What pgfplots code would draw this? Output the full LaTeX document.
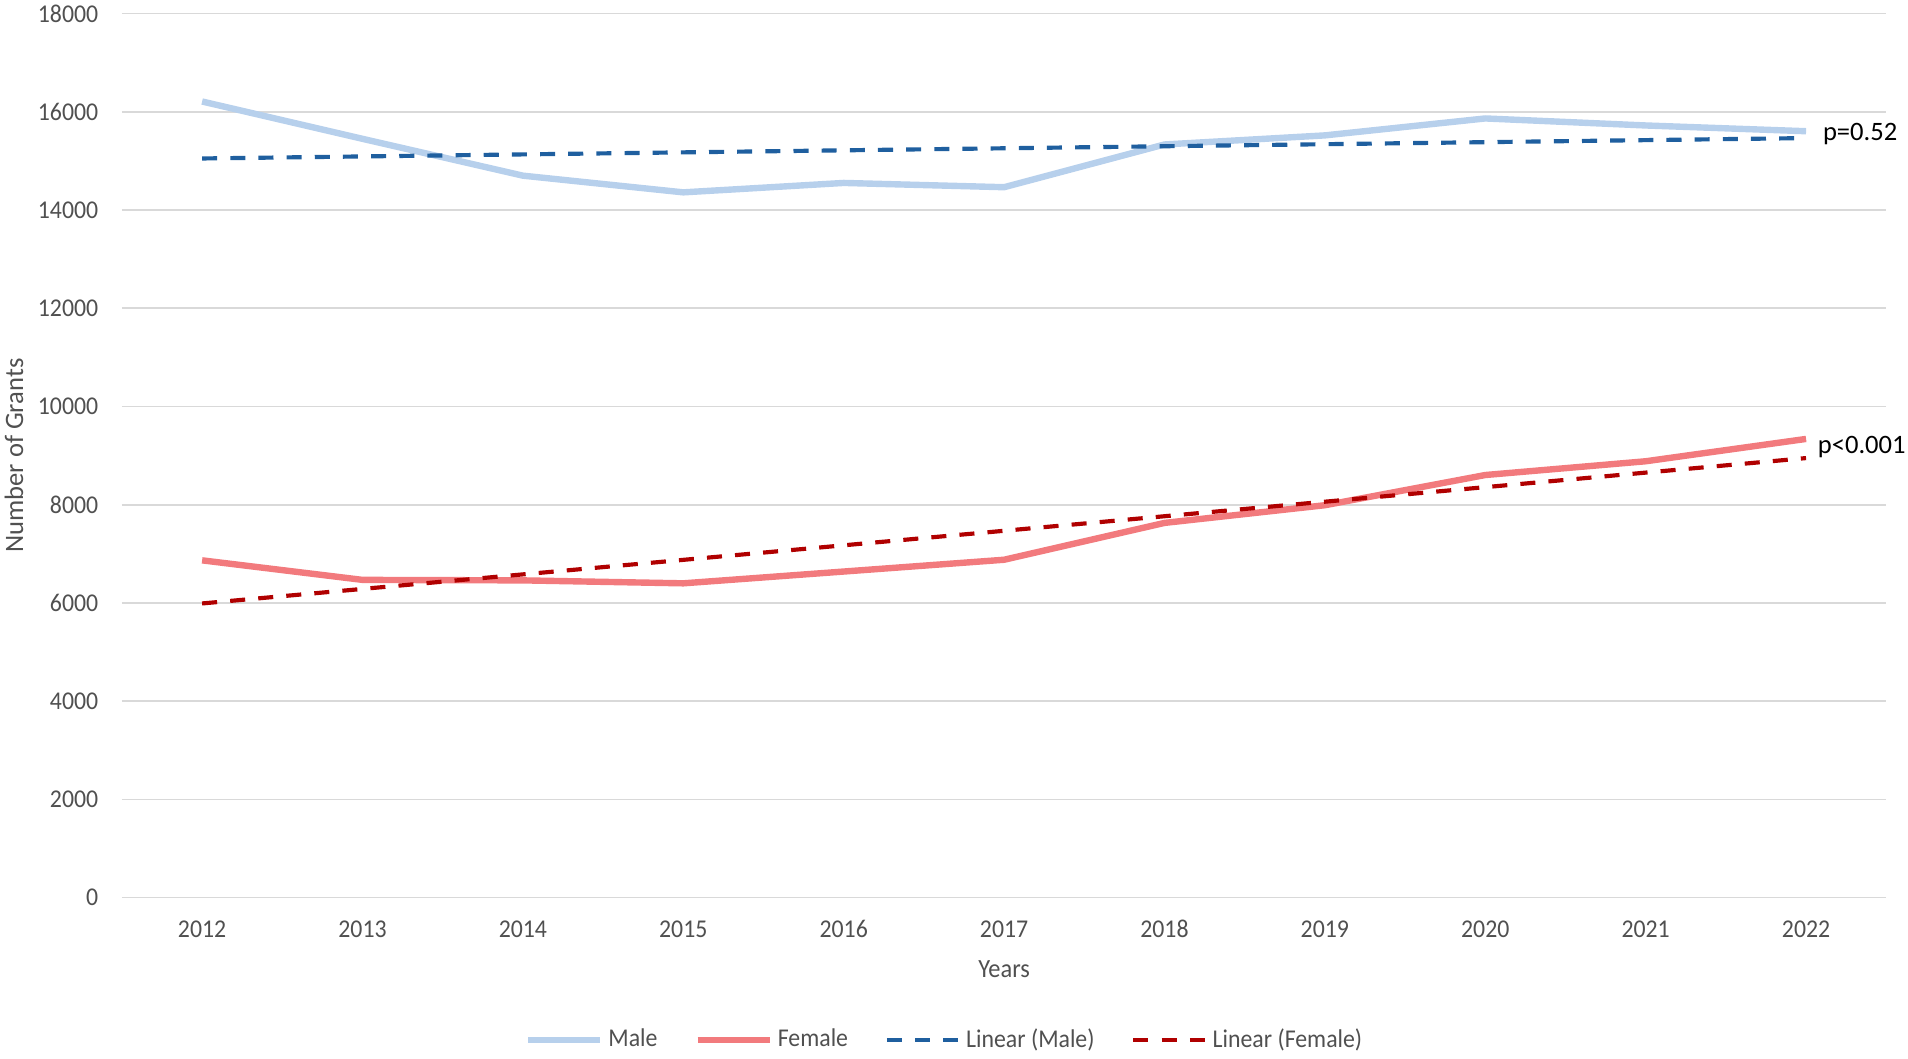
\documentclass[border=0pt]{standalone}
\usepackage{fontspec}
\setmainfont{Carlito}[FakeStretch=0.93]
\newfontfamily\plainfont{Carlito}
\usepackage{pgfplots}
\pgfplotsset{compat=1.18}
\definecolor{malec}{HTML}{B7D0EC}
\definecolor{femalec}{HTML}{F27A7D}
\definecolor{mtrend}{HTML}{1F5F9F}
\definecolor{ftrend}{HTML}{B00000}
\definecolor{gridgray}{HTML}{D9D9D9}
\definecolor{labelgray}{HTML}{505050}
\pgfplotstableread{
year male female
2012 16210 6868
2013 15450 6470
2014 14700 6460
2015 14360 6400
2016 14552 6640
2017 14465 6880
2018 15335 7630
2019 15520 7990
2020 15865 8605
2021 15722 8885
2022 15605 9340
}\grants
\pgfplotstableread{
year mtrend ftrend
2012 15050 5990
2022 15465 8950
}\trends
\begin{document}
\begin{tikzpicture}
\begin{axis}[
  at={(0,0)}, anchor=south west,
  width=551.3pt, height=276.25pt, scale only axis,
  xmin=2011.5, xmax=2022.5, ymin=0, ymax=18000,
  xtick={2012,2013,...,2022}, ytick={0,2000,...,18000},
  /pgf/number format/assume math mode=true,
  /pgf/number format/1000 sep={},
  scaled y ticks=false,
  axis line style={draw=none}, major tick length=0pt,
  ymajorgrids, grid style={color=gridgray, line width=0.5pt},
  tick label style={font=\fontsize{8}{9.6}\selectfont, text=labelgray},
  yticklabel style={anchor=east, inner sep=0pt, xshift=-7.2pt},
  xticklabel style={anchor=base, inner sep=0pt, yshift=-12.4pt},
  xlabel={Years},
  every axis x label/.style={at={(axis description cs:0.5,0)}, anchor=base, inner sep=0pt, yshift=-25.1pt, font=\fontsize{8.2}{9.8}\selectfont, text=labelgray},
  ylabel={Number of Grants},
  every axis y label/.style={at={(axis description cs:-0.06122,0.5)}, rotate=90, anchor=center, inner sep=0pt, font=\plainfont\fontsize{8.3}{10}\selectfont, text=labelgray},
  clip=false,
  legend columns=4,
  legend style={at={(0.4657,-0.1611)}, anchor=center, draw=none, fill=none,
    font=\fontsize{8}{9.6}\selectfont, text=labelgray,
    nodes={inner sep=0pt},
    /tikz/every odd column/.append style={column sep=1.6pt},
    /tikz/every even column/.append style={column sep=11.5pt}},
  legend image code/.code={\draw[#1] (0pt,0pt) -- (22.5pt,0pt);},
]
\addplot[color=malec, line width=2pt, line join=round] table[x=year, y=male] {\grants};
\addlegendentry{Male}
\addplot[color=femalec, line width=2pt, line join=round] table[x=year, y=female] {\grants};
\addlegendentry{Female}
\addplot[color=mtrend, line width=1.3pt, dash pattern=on 4.7pt off 4.1pt] table[x=year, y=mtrend] {\trends};
\addlegendentry{Linear (Male)}
\addplot[color=ftrend, line width=1.3pt, dash pattern=on 4.7pt off 4.1pt] table[x=year, y=ftrend] {\trends};
\addlegendentry{Linear (Female)}
\node[anchor=base west, inner sep=0pt, font=\plainfont\fontsize{8.3}{10}\selectfont, text=black] at ([xshift=5.1pt, yshift=-2.6pt]axis cs:2022,15594) {p=0.52};
\node[anchor=base west, inner sep=0pt, font=\plainfont\fontsize{8.3}{10}\selectfont, text=black] at ([xshift=3.5pt, yshift=-2.6pt]axis cs:2022,9220) {p<0.001};
\end{axis}
\path (-38.1pt,-50.1pt) rectangle (558.1pt,280.5pt);
\end{tikzpicture}
\end{document}
